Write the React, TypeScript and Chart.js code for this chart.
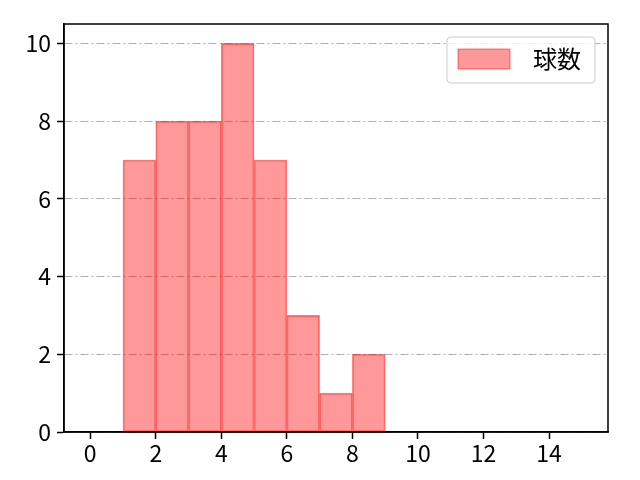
import React, { useEffect, useRef } from 'react';
import { Chart, registerables } from 'chart.js';

Chart.register(...registerables);

const binCenters = [1.5, 2.5, 3.5, 4.5, 5.5, 6.5, 7.5, 8.5];
const counts = [7, 8, 8, 10, 7, 3, 1, 2];
const xTicks = [0, 2, 4, 6, 8, 10, 12, 14];
const yTicks = [0, 2, 4, 6, 8, 10];
const seriesLabel = '球数';

const FONT = '"Noto Sans CJK JP", "Noto Sans", sans-serif';
const FILL = 'rgba(255, 0, 0, 0.4)';
const EDGE = 'rgba(255, 0, 0, 0.5)';

// frame on all four sides + legend box in the top-right corner
const framePlugin = {
  id: 'frame',
  afterDraw(chart: Chart) {
    const { ctx, chartArea } = chart;
    ctx.save();
    ctx.strokeStyle = '#000';
    ctx.lineWidth = 1.5;
    ctx.strokeRect(chartArea.left, chartArea.top, chartArea.right - chartArea.left, chartArea.bottom - chartArea.top);

    const w = 148, h = 46;
    const x = chartArea.right - 13 - w;
    const y = chartArea.top + 13;
    ctx.fillStyle = 'rgba(255,255,255,0.8)';
    ctx.strokeStyle = '#cccccc';
    ctx.lineWidth = 1;
    ctx.beginPath();
    ctx.roundRect(x, y, w, h, 4);
    ctx.fill();
    ctx.stroke();

    ctx.fillStyle = FILL;
    ctx.strokeStyle = EDGE;
    ctx.fillRect(x + 11, y + 12, 52, 20);
    ctx.strokeRect(x + 11, y + 12, 52, 20);

    ctx.fillStyle = '#000';
    ctx.font = `24px ${FONT}`;
    ctx.textBaseline = 'middle';
    ctx.fillText(seriesLabel, x + 86, y + 22);
    ctx.restore();
  },
};

export default function App() {
  const canvasRef = useRef<HTMLCanvasElement>(null);

  useEffect(() => {
    if (!canvasRef.current) return;
    const chart = new Chart(canvasRef.current, {
      type: 'bar',
      data: {
        datasets: [
          {
            label: seriesLabel,
            data: binCenters.map((x, i) => ({ x, y: counts[i] })),
            backgroundColor: FILL,
            borderColor: EDGE,
            borderWidth: 1,
            borderSkipped: false,
            barPercentage: 1,
            categoryPercentage: 1,
          },
        ],
      },
      options: {
        responsive: false,
        animation: false,
        layout: { padding: { top: 24, right: 32, left: 0, bottom: 0 } },
        plugins: { legend: { display: false }, tooltip: { enabled: false } },
        scales: {
          x: {
            type: 'linear',
            offset: false,
            min: -0.8,
            max: 15.8,
            afterBuildTicks: (scale: any) => {
              scale.ticks = xTicks.map((v) => ({ value: v }));
            },
            afterFit: (scale: any) => {
              scale.height = 48;
            },
            grid: {
              offset: false,
              drawOnChartArea: false,
              tickLength: 7,
              tickColor: '#000',
              tickWidth: 1.5,
            },
            border: { color: '#000', width: 1.5 },
            ticks: { color: '#000', font: { family: FONT, size: 23 }, padding: 0 },
          },
          y: {
            min: 0,
            max: 10.5,
            afterBuildTicks: (scale: any) => {
              scale.ticks = yTicks.map((v) => ({ value: v }));
            },
            afterFit: (scale: any) => {
              scale.width = 64;
            },
            grid: {
              color: '#b0b0b0',
              lineWidth: 1,
              tickLength: 7,
              tickColor: '#000',
              tickWidth: 1.5,
              tickBorderDash: [],
            },
            border: { color: '#000', width: 1.5, dash: [8, 3, 2, 3] },
            ticks: { color: '#000', font: { family: FONT, size: 23 }, padding: 6 },
          },
        },
      },
      plugins: [framePlugin],
    });
    return () => chart.destroy();
  }, []);

  return (
    <div style={{ width: 640, height: 480, margin: -8 }}>
      <canvas ref={canvasRef} width={640} height={480} />
    </div>
  );
}
